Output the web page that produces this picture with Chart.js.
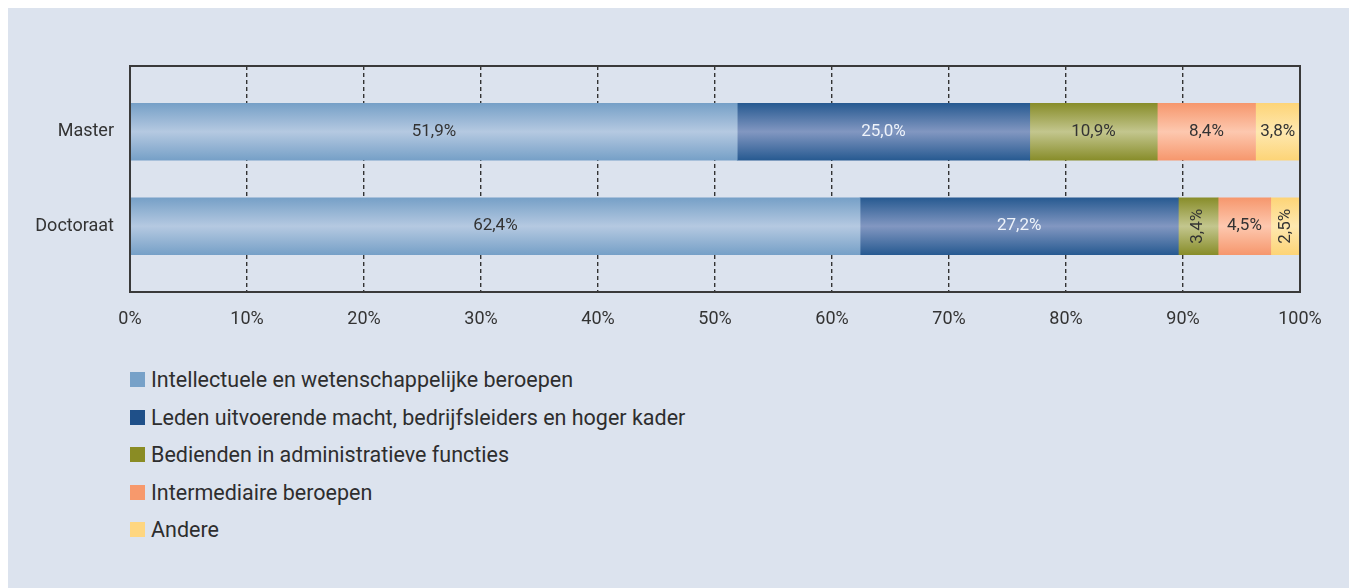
<!DOCTYPE html>
<html><head><meta charset="utf-8">
<script src="https://cdn.jsdelivr.net/npm/chart.js@4/dist/chart.umd.min.js"></script>
<style>
html,body{margin:0;padding:0;background:#fff;width:1349px;height:588px;overflow:hidden;font-family:Roboto,sans-serif}
#panel{position:absolute;left:8px;top:8px;width:1341px;height:580px;background:#dce3ee}
#wrap{position:absolute;left:0;top:0;width:1341px;height:330px}
.lg{position:absolute;left:122px;height:26px;display:flex;align-items:center;font-size:21.5px;color:#2e2e2e;white-space:nowrap}
.lg span.sq{display:inline-block;width:15px;height:15px;margin-right:6px}
</style></head>
<body>
<div id="panel">
  <div id="wrap"><canvas id="c" width="1341" height="330"></canvas></div>
  <div id="legend"></div>
</div>
<script>
const categories = ['Master', 'Doctoraat'];
const seriesNames = [
  'Intellectuele en wetenschappelijke beroepen',
  'Leden uitvoerende macht, bedrijfsleiders en hoger kader',
  'Bedienden in administratieve functies',
  'Intermediaire beroepen',
  'Andere'
];
const intellectueel = [51.9, 62.4];
const leden = [25.0, 27.2];
const bedienden = [10.9, 3.4];
const intermediair = [8.4, 4.5];
const andere = [3.8, 2.5];
const xTicks = [0, 10, 20, 30, 40, 50, 60, 70, 80, 90, 100];

const seriesValues = [intellectueel, leden, bedienden, intermediair, andere];
const legendColors = ['#77a1c8', '#1f5089', '#8a8c24', '#f7996c', '#fed680'];
const edgeColors = ['#76a0c7', '#275a91', '#888d2a', '#f6976d', '#fdd477'];
const midColors = ['#b5c9e1', '#8297c1', '#c3c68e', '#fdc8af', '#fee8b0'];
const labelColors = ['#333333', '#eef3fa', '#333333', '#333333', '#333333'];

const BAR = 57;

function makeGrad(chart, di, i) {
  const y = chart.scales && chart.scales.y;
  if (!y || !chart.chartArea) return edgeColors[di];
  const c = y.getPixelForValue(i);
  const g = chart.ctx.createLinearGradient(0, c - BAR / 2, 0, c + BAR / 2);
  g.addColorStop(0, edgeColors[di]);
  g.addColorStop(0.5, midColors[di]);
  g.addColorStop(1, edgeColors[di]);
  return g;
}

const datasets = seriesValues.map((vals, di) => ({
  label: seriesNames[di],
  data: vals.map((v, i) => ({ x: v, y: i })),
  backgroundColor: (ctx) => makeGrad(ctx.chart, di, ctx.dataIndex),
  borderWidth: 0,
  barThickness: BAR
}));

const labelPlugin = {
  id: 'labels',
  afterDatasetsDraw(chart) {
    const ctx = chart.ctx;
    const a = chart.chartArea;
    ctx.save();
    ctx.strokeStyle = '#3a3a3a';
    ctx.lineWidth = 2;
    ctx.setLineDash([]);
    ctx.strokeRect(a.left, a.top, a.right - a.left, a.bottom - a.top);
    ctx.font = '17px Roboto';
    ctx.textAlign = 'center';
    ctx.textBaseline = 'middle';
    chart.data.datasets.forEach((ds, di) => {
      const meta = chart.getDatasetMeta(di);
      meta.data.forEach((el, i) => {
        const p = el.getProps(['x', 'y', 'base'], true);
        const v = seriesValues[di][i];
        const txt = v.toFixed(1).replace('.', ',') + '%';
        const w = Math.abs(p.x - p.base);
        const cx = (p.x + p.base) / 2;
        ctx.fillStyle = labelColors[di];
        if (w < 42) {
          ctx.save();
          ctx.translate(cx, p.y);
          ctx.rotate(-Math.PI / 2);
          ctx.fillText(txt, 0, 0);
          ctx.restore();
        } else {
          ctx.fillText(txt, cx, p.y);
        }
      });
    });
    ctx.restore();
  }
};

Chart.defaults.font.family = 'Roboto';
Chart.defaults.font.size = 18;
Chart.defaults.color = '#333';

new Chart(document.getElementById('c'), {
  type: 'bar',
  data: { datasets },
  options: {
    indexAxis: 'y',
    responsive: false,
    animation: false,
    layout: { padding: { top: 58, right: 49, left: 0, bottom: 0 } },
    plugins: { legend: { display: false }, tooltip: { enabled: false } },
    scales: {
      x: {
        type: 'linear', stacked: true, min: 0, max: 100,
        afterBuildTicks: (s) => { s.ticks = xTicks.map(v => ({ value: v })); },
        ticks: { callback: (v) => v + '%', padding: 17, color: '#333', maxRotation: 0, font: { size: 18 } },
        grid: { color: '#333', lineWidth: 1.4, drawTicks: false },
        border: { display: false, dash: [4, 3] },
        afterFit: (s) => { s.height = 46; }
      },
      y: {
        type: 'linear', stacked: true, reverse: true, offset: false, min: -0.696, max: 1.696,
        afterBuildTicks: (s) => { s.ticks = categories.map((c, i) => ({ value: i })); },
        ticks: { callback: (v) => categories[v], padding: 16, color: '#333', font: { size: 18 } },
        grid: { display: false, drawTicks: false, offset: false },
        border: { display: false },
        afterFit: (s) => { s.width = 122; }
      }
    }
  },
  plugins: [labelPlugin]
});

const legend = document.getElementById('legend');
seriesNames.forEach((name, i) => {
  const row = document.createElement('div');
  row.className = 'lg';
  row.style.top = (364 + 37.5 * i + 7.5 - 13) + 'px';
  row.innerHTML = '<span class="sq" style="background:' + legendColors[i] + '"></span>' + name;
  legend.appendChild(row);
});
</script>
</body></html>
